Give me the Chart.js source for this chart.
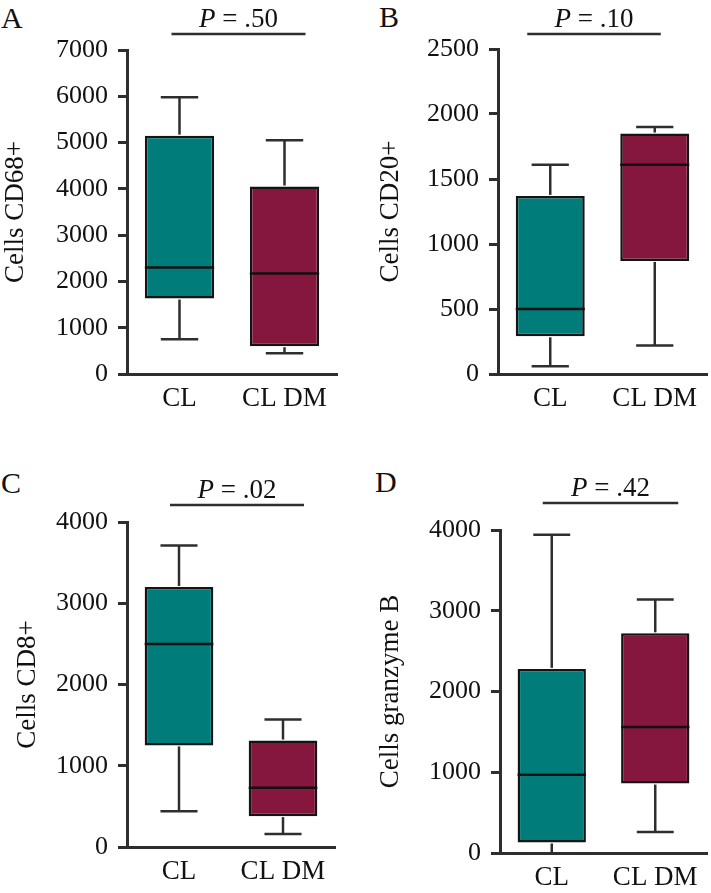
<!DOCTYPE html>
<html>
<head>
<meta charset="utf-8">
<script src="https://cdn.jsdelivr.net/npm/chart.js@4"></script>
<style>
  body { margin: 0; background: #fff; width: 711px; height: 893px; position: relative; overflow: hidden; }
  canvas { position: absolute; }
  .letter { position: absolute; font: 30px "Liberation Serif", serif; line-height: 30px; color: #111; }
</style>
</head>
<body>
<div class="letter" style="left:1px;top:3px">A</div>
<div class="letter" style="left:379px;top:2px">B</div>
<div class="letter" style="left:1px;top:468px">C</div>
<div class="letter" style="left:375px;top:467px">D</div>

<canvas id="chartA" width="350" height="425" style="left:0;top:0"></canvas>
<canvas id="chartB" width="336" height="425" style="left:375px;top:0"></canvas>
<canvas id="chartC" width="338" height="453" style="left:12px;top:440px"></canvas>
<canvas id="chartD" width="336" height="453" style="left:375px;top:440px"></canvas>

<script>
const groups = ["CL", "CL DM"];
const boxColors = ["#007d7b", "#85173f"];

// A - Cells CD68+
const cd68Min = [750, 450];
const cd68Q1 = [1630, 600];
const cd68Median = [2300, 2170];
const cd68Q3 = [5150, 4050];
const cd68Max = [5980, 5050];
const cd68Ticks = [0, 1000, 2000, 3000, 4000, 5000, 6000, 7000];

// B - Cells CD20+
const cd20Min = [60, 220];
const cd20Q1 = [290, 870];
const cd20Median = [500, 1610];
const cd20Q3 = [1370, 1850];
const cd20Max = [1610, 1900];
const cd20Ticks = [0, 500, 1000, 1500, 2000, 2500];

// C - Cells CD8+
const cd8Min = [440, 160];
const cd8Q1 = [1250, 380];
const cd8Median = [2500, 730];
const cd8Q3 = [3200, 1310];
const cd8Max = [3710, 1570];
const cd8Ticks = [0, 1000, 2000, 3000, 4000];

// D - Cells granzyme B
const gzbMin = [0, 260];
const gzbQ1 = [130, 860];
const gzbMedian = [970, 1560];
const gzbQ3 = [2280, 2720];
const gzbMax = [3940, 3140];
const gzbTicks = [0, 1000, 2000, 3000, 4000];

const pValues = [".50", ".10", ".02", ".42"];

const FONT = "Liberation Serif";
const LINE = "#2e2e2e";

// whiskers, medians and the P bracket
const boxPlugin = {
    id: "boxExtras",
    afterDatasetsDraw(chart, args, opts) {
        const { ctx, chartArea } = chart;
        const x = chart.scales.x, y = chart.scales.y;
        const meta = chart.getDatasetMeta(0);
        ctx.save();
        ctx.strokeStyle = LINE;
        ctx.lineWidth = 2.5;
        const line = (x1, y1, x2, y2) => {
            ctx.beginPath();
            ctx.moveTo(x1, y1);
            ctx.lineTo(x2, y2);
            ctx.stroke();
        };
        meta.data.forEach((bar, i) => {
            const cx = bar.x, half = bar.width / 2, cap = bar.width * 0.27;
            const pMax = y.getPixelForValue(opts.max[i]);
            const pQ3 = y.getPixelForValue(opts.q3[i]);
            const pMed = y.getPixelForValue(opts.median[i]);
            const pQ1 = y.getPixelForValue(opts.q1[i]);
            const pMin = y.getPixelForValue(opts.min[i]);
            line(cx, pQ3 - 1, cx, pMax);
            line(cx - cap, pMax, cx + cap, pMax);
            line(cx, pQ1 + 1, cx, pMin);
            if (opts.min[i] > 0) line(cx - cap, pMin, cx + cap, pMin);
            ctx.strokeStyle = "#111";
            line(cx - half, pMed, cx + half, pMed);
            ctx.strokeStyle = LINE;
        });
        // bracket
        const bx1 = x.getPixelForValue(0) + opts.bracket[0];
        const bx2 = x.getPixelForValue(1) + opts.bracket[1];
        const by = chartArea.top - opts.bracket[2];
        ctx.lineWidth = 2.5;
        line(bx1, by, bx2, by);
        // P label
        ctx.fillStyle = "#111";
        ctx.textBaseline = "alphabetic";
        ctx.font = "italic 27px '" + FONT + "'";
        const pw = ctx.measureText("P").width;
        ctx.font = "27px '" + FONT + "'";
        const rest = " = " + opts.p;
        const rw = ctx.measureText(rest).width;
        const tx = (bx1 + bx2) / 2 - (pw + rw) / 2;
        ctx.font = "italic 27px '" + FONT + "'";
        ctx.fillText("P", tx, by - 7);
        ctx.font = "27px '" + FONT + "'";
        ctx.fillText(rest, tx + pw, by - 7);
        ctx.restore();
    }
};

function makeBoxChart(id, cfg) {
    const canvas = document.getElementById(id);
    return new Chart(canvas, {
        type: "bar",
        data: {
            labels: groups,
            datasets: [{
                data: cfg.q1.map((v, i) => [v, cfg.q3[i]]),
                backgroundColor: boxColors,
                borderColor: "#141414",
                borderWidth: 2.5,
                borderSkipped: false,
                barPercentage: 0.66,
                categoryPercentage: 1
            }]
        },
        options: {
            responsive: false,
            animation: false,
            devicePixelRatio: 1,
            layout: { padding: cfg.padding },
            plugins: {
                legend: { display: false },
                tooltip: { enabled: false },
                boxExtras: {
                    min: cfg.min, q1: cfg.q1, median: cfg.median, q3: cfg.q3, max: cfg.max,
                    p: cfg.p, bracket: cfg.bracket
                }
            },
            scales: {
                x: {
                    grid: { display: false, drawTicks: false, tickLength: 0 },
                    border: { display: true, color: LINE, width: 3 },
                    ticks: { color: "#111", padding: 9, font: { family: FONT, size: 27 } },
                    afterFit: s => { s.height = cfg.xHeight; }
                },
                y: {
                    min: 0,
                    max: cfg.ticks[cfg.ticks.length - 1],
                    afterBuildTicks: s => { s.ticks = cfg.ticks.map(v => ({ value: v })); },
                    grid: { drawOnChartArea: false, drawTicks: true, tickLength: 9, color: LINE, lineWidth: 3 },
                    border: { display: true, color: LINE, width: 3 },
                    ticks: { color: "#111", padding: 10, font: { family: FONT, size: 26 }, callback: v => String(v) },
                    title: { display: true, text: cfg.title, color: "#111", padding: 0, font: { family: FONT, size: 27 } },
                    afterFit: s => { s.width = cfg.yWidth; }
                }
            }
        },
        plugins: [boxPlugin]
    });
}

makeBoxChart("chartA", {
    min: cd68Min, q1: cd68Q1, median: cd68Median, q3: cd68Q3, max: cd68Max, ticks: cd68Ticks,
    title: "Cells CD68+", p: pValues[0],
    padding: { left: 0, top: 50, right: 13, bottom: 0 }, yWidth: 127, xHeight: 51,
    bracket: [-8, 21, 16]
});
makeBoxChart("chartB", {
    min: cd20Min, q1: cd20Q1, median: cd20Median, q3: cd20Q3, max: cd20Max, ticks: cd20Ticks,
    title: "Cells CD20+", p: pValues[1],
    padding: { left: 0, top: 49, right: 4, bottom: 0 }, yWidth: 123, xHeight: 51,
    bracket: [-23, 6, 15]
});
makeBoxChart("chartC", {
    min: cd8Min, q1: cd8Q1, median: cd8Median, q3: cd8Q3, max: cd8Max, ticks: cd8Ticks,
    title: "Cells CD8+", p: pValues[2],
    padding: { left: 0, top: 82, right: 15, bottom: 0 }, yWidth: 115, xHeight: 46,
    bracket: [-9, 21, 17]
});
makeBoxChart("chartD", {
    min: gzbMin, q1: gzbQ1, median: gzbMedian, q3: gzbQ3, max: gzbMax, ticks: gzbTicks,
    title: "Cells granzyme B", p: pValues[3],
    padding: { left: 0, top: 90, right: 4, bottom: 0 }, yWidth: 125, xHeight: 40,
    bracket: [-9, 23, 27]
});
</script>
</body>
</html>
